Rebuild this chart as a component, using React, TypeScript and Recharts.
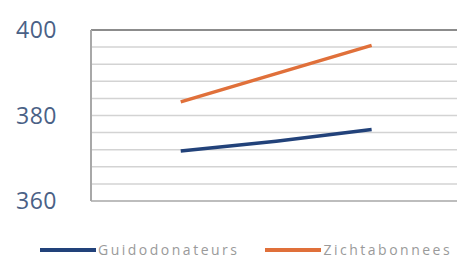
import React from 'react'
import { LineChart, Line, XAxis, YAxis, CartesianGrid, ReferenceLine, Legend } from 'recharts'

const xPoints = [0, 1, 2]
const guidodonateurs = [371.7, 374.0, 376.7]
const zichtabonnees = [383.2, 389.8, 396.4]
const yTicks = [360, 364, 368, 372, 376, 380, 384, 388, 392, 396, 400]
const yLabels = [360, 380, 400]

const COLORS = {
  guido: '#22427a',
  zicht: '#e0703a',
}

const data = xPoints.map((x, i) => ({
  x,
  Guidodonateurs: guidodonateurs[i],
  Zichtabonnees: zichtabonnees[i],
}))

function YTick(props: any) {
  const { y, payload } = props
  if (!yLabels.includes(payload.value)) return null
  return (
    <text x={57} y={y} dy={8} textAnchor="end" fontSize={23} letterSpacing={0.5} fill="#4a6186" fontFamily="Open Sans">
      {payload.value}
    </text>
  )
}

function LegendContent() {
  const items = [
    { name: 'Guidodonateurs', color: COLORS.guido },
    { name: 'Zichtabonnees', color: COLORS.zicht },
  ]
  return (
    <div style={{ display: 'flex', alignItems: 'center', paddingLeft: 40 }}>
      {items.map((item) => (
        <div key={item.name} style={{ display: 'flex', alignItems: 'center', marginRight: 26 }}>
          <div style={{ width: 56, height: 4, background: item.color }} />
          <span
            style={{
              fontFamily: 'Open Sans',
              fontSize: 14,
              letterSpacing: 2.5,
              color: '#9a9a9a',
              marginLeft: 2,
            }}
          >
            {item.name}
          </span>
        </div>
      ))}
    </div>
  )
}

export default function App() {
  return (
    <div style={{ position: 'absolute', left: 0, top: 0, width: 457, height: 260, overflow: 'hidden', background: '#fff' }}>
      <LineChart width={500} height={260} data={data} margin={{ top: 30, right: 10, bottom: 40, left: 0 }}>
        <CartesianGrid vertical={false} stroke="#d3d3d3" strokeWidth={1.5} />
        <XAxis dataKey="x" type="number" domain={[-0.94, 3.24]} hide />
        <YAxis
          width={91}
          domain={[360, 400]}
          ticks={yTicks}
          interval={0}
          tickLine={false}
          axisLine={{ stroke: '#a8a8a8', strokeWidth: 2 }}
          tick={<YTick />}
        />
        <ReferenceLine y={400} stroke="#8c8c8c" strokeWidth={2} />
        <ReferenceLine y={360} stroke="#bdbdbd" strokeWidth={2} />
        <Line dataKey="Guidodonateurs" stroke={COLORS.guido} strokeWidth={3.5} dot={false} isAnimationActive={false} />
        <Line dataKey="Zichtabonnees" stroke={COLORS.zicht} strokeWidth={3.5} dot={false} isAnimationActive={false} />
        <Legend
          content={<LegendContent />}
          wrapperStyle={{ position: 'absolute', left: 0, top: 240, width: 500 }}
        />
      </LineChart>
    </div>
  )
}
